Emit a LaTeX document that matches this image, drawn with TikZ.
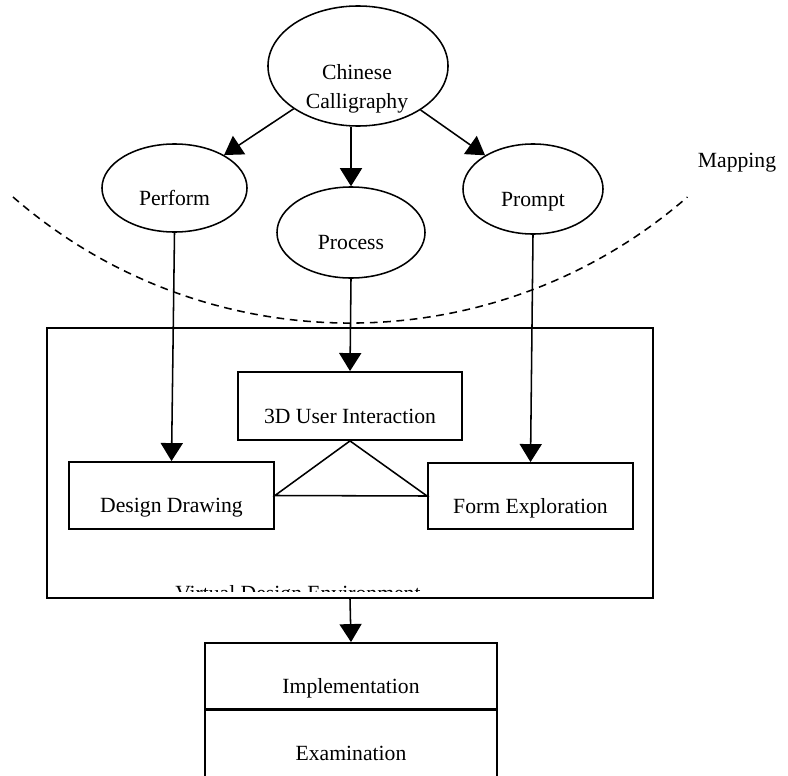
\documentclass[tikz,border=0pt]{standalone}
\usepackage{fontspec}
\setmainfont{Liberation Serif}
\usetikzlibrary{shapes.geometric,arrows.meta}
\tikzset{
  bubble/.style={draw, ellipse, line width=1.1pt, inner sep=0pt, text height=0.86cm, text depth=0pt},
  panel/.style={draw, rectangle, line width=1.3pt, inner sep=0pt, text height=0.86cm, text depth=0pt},
  arr/.style={line width=1.1pt, -{Triangle[width=0.55cm,length=0.45cm]}},
  mapline/.style={line width=1.1pt, dash pattern=on 5.5pt off 4pt}
}
\begin{document}
\begin{tikzpicture}[x=0.025cm, y=0.025cm, font=\fontsize{15.4}{18.5}\selectfont]
  \useasboundingbox (0,0) rectangle (788,-775);
  % top: the source and its three mappings
  \node[bubble, minimum width=4.5cm, minimum height=3cm] (cc) at (358,-66) {};
  \node[anchor=base] (cctop) at (357,-79) {Chinese};
  \node[anchor=base] (ccbot) at (357,-108) {Calligraphy};
  \node[bubble, minimum width=3.625cm, minimum height=2.2cm] (perform) at (174.5,-188) {Perform};
  \node[bubble, minimum width=3.7cm, minimum height=2.275cm] (process) at (351,-232.5) {Process};
  \node[bubble, minimum width=3.5cm, minimum height=2.25cm] (prompt) at (533,-189) {Prompt};
  \draw[mapline] (13,-197) arc[start angle=229, end angle=311, radius=514];
  \node (mapping) at (737,-163) {Mapping};
  % virtual design environment
  \node[draw, line width=1.3pt, minimum width=15.15cm, minimum height=6.75cm, inner sep=0pt] (vde) at (350,-463) {};
  \begin{scope}
    \clip (47,-328) rectangle (653,-591);
    \node[anchor=base west, inner sep=0pt] (vdelabel) at (175,-600.5) {Virtual Design Environment};
  \end{scope}
  \node[panel, minimum width=5.6cm, minimum height=1.7cm] (ui) at (350,-406) {3D User Interaction};
  \node[panel, minimum width=5.125cm, minimum height=1.675cm] (dd) at (171.5,-495.5) {Design Drawing};
  \node[panel, minimum width=5.125cm, minimum height=1.65cm] (fe) at (530.5,-496) {Form Exploration};
  \draw[line width=1.1pt] (ui.south) -- (dd.east) -- (fe.west) -- cycle;
  % outcome
  \node[panel, minimum width=7.3cm, minimum height=1.675cm] (impl) at (351,-676.5) {Implementation};
  \node[panel, minimum width=7.3cm, minimum height=1.7cm] (exam) at (351,-743) {Examination};
  % connectors
  \draw[arr] (cc) -- (perform);
  \draw[arr] (process.north |- cc.south) -- (process.north);
  \draw[arr] (cc) -- (prompt);
  \draw[arr] (perform.south) -- (dd.north);
  \draw[arr] (process.south) -- (ui.north);
  \draw[arr] (prompt.south) -- (fe.north);
  \draw[arr] (vde.south) -- (impl.north);
\end{tikzpicture}
\end{document}
